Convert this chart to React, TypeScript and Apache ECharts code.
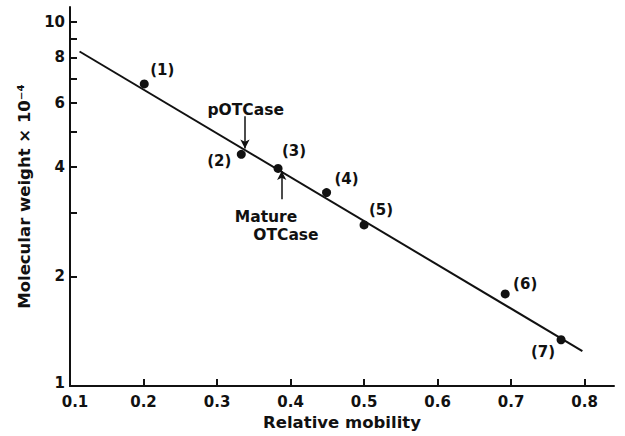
import React, { useEffect, useRef } from "react";
import * as echarts from "echarts";

// Relative mobility (x) and molecular weight ×10^-4 (y) of the standards
const mobility = [0.201, 0.333, 0.383, 0.449, 0.5, 0.692, 0.768];
const molWeight = [6.76, 4.33, 3.96, 3.4, 2.77, 1.79, 1.34];
const pointNames = ["(1)", "(2)", "(3)", "(4)", "(5)", "(6)", "(7)"];

// fitted line end points
const fitX = [0.113, 0.797];
const fitY = [8.3, 1.247];

// x axis ticks
const xTicks = [0.1, 0.2, 0.3, 0.4, 0.5, 0.6, 0.7, 0.8];
// y axis ticks (log scale) and labelled ticks
const yTicks = [1, 2, 3, 4, 5, 6, 7, 8, 9, 10];
const yLabelTicks = [1, 2, 4, 6, 8, 10];

// annotation texts and their anchor (data units)
const annoText = ["pOTCase", "Mature", "OTCase"];
const annoX = [0.339, 0.3666, 0.3937];
const annoY = [5.75, 2.92, 2.6];

// annotation arrows: [x, yFrom, yTo]
const arrowX = [0.338, 0.388];
const arrowFrom = [5.51, 3.26];
const arrowTo = [4.49, 3.9];

// label offsets (px) for the point labels
const labelOffsets = [
  [18, -14],
  [-22, 7],
  [16, -17],
  [20, -14],
  [17, -15],
  [20, -10],
  [-18, 12],
];

const L = (v: number) => Math.log10(v);
const FONT = "DejaVu Sans";
const INK = "#111";

export default function App() {
  const ref = useRef<HTMLDivElement>(null);
  useEffect(() => {
    if (!ref.current) return;
    const chart = echarts.init(ref.current, undefined, { renderer: "svg" });
    const textStyle = { fontFamily: FONT, fontWeight: "bold" as const, fontSize: 15, color: INK };
    const titleStyle = { ...textStyle, fontSize: 16.5 };
    chart.setOption({
      animation: false,
      backgroundColor: "#fff",
      grid: { left: 70, right: 11, top: 7, bottom: 49, containLabel: false },
      xAxis: {
        type: "value",
        min: 0.1,
        max: 0.84,
        name: "Relative mobility",
        nameLocation: "middle",
        nameGap: 28,
        nameTextStyle: titleStyle,
        axisLine: { lineStyle: { color: INK, width: 2 } },
        axisTick: { inside: true, length: 7, lineStyle: { color: INK, width: 2 }, customValues: xTicks },
        axisLabel: {
          ...textStyle,
          lineHeight: 13,
          margin: 9,
          customValues: xTicks,
          formatter: (v: number) => (Math.abs(v - xTicks[0]) < 1e-9 ? "{first|" + v.toFixed(1) + "}" : v.toFixed(1)),
          rich: { first: { ...textStyle, lineHeight: 13, padding: [0, 0, 0, 10] } },
        },
        splitLine: { show: false },
      },
      yAxis: {
        type: "value",
        min: 0,
        max: L(11),
        name: "Molecular weight × 10⁻⁴",
        nameLocation: "middle",
        nameRotate: 90,
        nameGap: 29,
        nameTextStyle: titleStyle,
        axisLine: { lineStyle: { color: INK, width: 2 } },
        axisTick: { inside: true, length: 7, lineStyle: { color: INK, width: 2 }, customValues: yTicks.map(L) },
        axisLabel: {
          ...textStyle,
          lineHeight: 13,
          margin: 5,
          customValues: yLabelTicks.map(L),
          formatter: (v: number) => {
            const n = String(Math.round(Math.pow(10, v)));
            return Math.abs(v) < 1e-9 ? "{low|" + n + "}" : n;
          },
          rich: { low: { ...textStyle, lineHeight: 13, padding: [0, 0, 7, 0] } },
        },
        splitLine: { show: false },
      },
      series: [
        {
          type: "line",
          data: fitX.map((x, i) => [x, L(fitY[i])]),
          showSymbol: false,
          symbol: "none",
          lineStyle: { color: INK, width: 2 },
          z: 2,
        },
        {
          type: "scatter",
          symbolSize: 9,
          itemStyle: { color: INK, opacity: 1 },
          data: mobility.map((x, i) => ({
            value: [x, L(molWeight[i])],
            label: {
              show: true,
              position: "inside",
              offset: labelOffsets[i],
              formatter: pointNames[i],
              ...textStyle,
            },
          })),
          z: 3,
        },
        {
          type: "scatter",
          symbolSize: 0,
          itemStyle: { color: "rgba(0,0,0,0)", opacity: 1 },
          data: annoX.map((x, i) => ({
            value: [x, L(annoY[i])],
            label: { show: true, position: "inside", formatter: annoText[i], ...textStyle, fontSize: 15.5 },
          })),
          markLine: {
            silent: true,
            symbol: ["none", "arrow"],
            symbolSize: [7, 9],
            lineStyle: { color: INK, width: 1.5, type: "solid" },
            label: { show: false },
            data: arrowX.map((x, i) => [
              { coord: [x, L(arrowFrom[i])] },
              { coord: [x, L(arrowTo[i])] },
            ]),
          },
          z: 4,
        },
      ],
    });
    return () => chart.dispose();
  }, []);
  return (
    <div
      ref={ref}
      style={{ position: "fixed", left: 0, top: 0, width: 625, height: 436, background: "#fff" }}
    />
  );
}
